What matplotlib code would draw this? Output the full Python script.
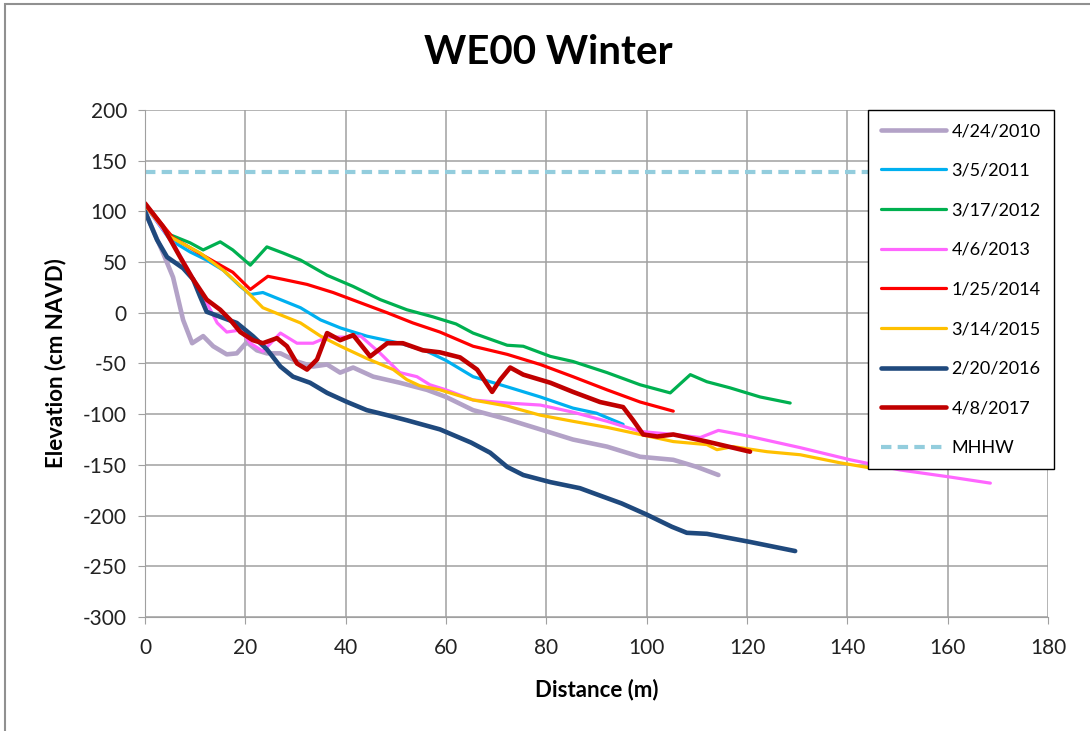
import matplotlib.pyplot as plt
from matplotlib.patches import Rectangle

plt.rcParams['font.family'] = ['Lato', 'DejaVu Sans']
plt.rcParams['axes.unicode_minus'] = False

# Beach profile surveys, distance (m) vs elevation (cm NAVD)
d2010 = [0, 3.6, 5.6, 7.6, 9.4, 11.6, 13.6, 16.3, 18.3, 20.3, 22.3, 24.3, 27, 30.3, 33.5, 36.3,
         38.9, 41.5, 45.5, 50.8, 56.2, 60, 65.4, 72.2, 78.8, 85.3, 92.1, 98.7, 105.3, 110, 114.3]
e2010 = [100, 59, 35, -7, -30, -23, -33, -41, -40, -29, -37, -40, -40, -48, -53, -51,
         -59, -54, -63, -69, -76, -83, -96, -105, -115, -125, -132, -142, -145, -152, -160]

d2011 = [0, 5, 9, 12.3, 15.6, 19, 21, 23.5, 27, 31, 35, 39, 44.2, 50.8, 56.2, 60,
         65.4, 72.2, 78.8, 85.3, 90, 95.3]
e2011 = [106, 72, 60, 52, 42, 26, 18, 20, 13, 5, -7, -15, -23, -30, -38, -47,
         -63, -73, -83, -94, -99, -110]

d2012 = [0, 5, 9, 11.6, 15, 17.5, 21, 24.3, 27.5, 31, 36.3, 41.5, 46.9, 52.2, 57.4, 62,
         65.4, 72.2, 75.4, 80.8, 85.3, 92.1, 98.7, 104.7, 108.7, 112, 116.6, 122.6, 128.6]
e2012 = [105, 77, 69, 62, 70, 62, 47, 65, 59, 52, 37, 26, 13, 3, -4, -11,
         -20, -32, -33, -43, -48, -59, -71, -79, -61, -68, -74, -83, -89]

d2013 = [0, 5.6, 9, 12.3, 14.4, 16.3, 19, 21, 23.5, 27, 30.3, 33.5, 36.3, 40.3, 43, 46.9,
         50.8, 54.2, 56.8, 60, 65.4, 72.2, 78.8, 85.3, 92.1, 98.7, 105.3, 110.7, 114.3,
         118.6, 120.6, 130.6, 140.6, 150.5, 160.5, 168.5]
e2013 = [106, 69, 39, 10, -10, -19, -17, -30, -38, -20, -30, -30, -24, -24, -23, -40,
         -59, -63, -71, -76, -86, -89, -91, -98, -107, -117, -120, -123, -116,
         -120, -122, -133, -145, -155, -162, -168]

d2014 = [0, 5.6, 10.4, 15, 17.5, 21, 24.5, 27.5, 32.3, 37.5, 42.9, 48.3, 53.4, 58.8,
         65.4, 72.2, 78.8, 85.3, 92.1, 98.7, 105.3]
e2014 = [108, 74, 60, 47, 40, 23, 36, 33, 28, 20, 10, 0, -10, -19,
         -33, -41, -51, -63, -76, -88, -97]

d2015 = [0, 5, 11, 15.6, 20.3, 23.5, 27, 31, 35, 39, 44.2, 49.5, 52.2, 54.8, 58.8,
         65.4, 72.2, 78.8, 85.3, 92.1, 98.7, 105.3, 112, 114, 117.2, 124, 130.6, 138.6, 144.6]
e2015 = [106, 75, 59, 42, 21, 5, -2, -10, -23, -33, -45, -56, -66, -72, -76,
         -86, -92, -101, -107, -113, -120, -127, -130, -135, -132, -137, -140, -148, -153]

d2016 = [0, 2.4, 4.4, 7.6, 9.6, 11, 12.3, 15, 18.3, 21.5, 24.3, 27, 29.5, 32.9, 36.3,
         40.3, 44.2, 48.3, 52.2, 58.8, 65, 68.8, 72.2, 75.4, 80.8, 86.7, 90, 95, 100,
         105, 108, 112, 120.6, 129.6]
e2016 = [100, 72, 55, 44, 33, 16, 1, -4, -10, -23, -36, -53, -63, -69, -79,
         -88, -96, -101, -106, -115, -128, -138, -152, -160, -167, -173, -179, -188, -199,
         -211, -217, -218, -226, -235]

d2017 = [0, 3.6, 7, 9.6, 12.3, 15, 17, 19, 21.5, 23.5, 26.3, 28.3, 30.3, 32.3, 34.3, 36.3,
         38.9, 41.5, 44.9, 48.3, 51.4, 55.4, 58.8, 62.8, 66.2, 69.2, 70.8, 72.8, 75.4,
         80.8, 85.3, 90.7, 95.3, 97.3, 99.3, 102.1, 105.3, 112, 120.6]
e2017 = [108, 85, 55, 33, 13, 3, -7, -19, -27, -30, -25, -33, -50, -56, -46, -20,
         -27, -22, -43, -30, -30, -37, -39, -44, -56, -78, -66, -54, -61,
         -69, -78, -88, -93, -106, -120, -122, -120, -127, -137]

mhhw = 139
x_range = [0, 180]

series = [
    ("4/24/2010", d2010, e2010, "#B3A2C7", 3.3),
    ("3/5/2011", d2011, e2011, "#00B0F0", 2.3),
    ("3/17/2012", d2012, e2012, "#00B050", 2.3),
    ("4/6/2013", d2013, e2013, "#FF66FF", 2.3),
    ("1/25/2014", d2014, e2014, "#FF0000", 2.3),
    ("3/14/2015", d2015, e2015, "#FFC000", 2.3),
    ("2/20/2016", d2016, e2016, "#1F497D", 3.3),
    ("4/8/2017", d2017, e2017, "#C00000", 3.3),
]

fig = plt.figure(figsize=(10.9, 7.31), dpi=100)
ax = fig.add_axes([0.133, 0.156, 0.8285, 0.6935])

for label, d, e, color, lw in series:
    ax.plot(d, e, color=color, lw=lw, label=label, solid_capstyle='round')
ax.plot(x_range, [mhhw, mhhw], color="#93CDDD", lw=3, ls=(0, (2.5, 1.5)), label="MHHW")

ax.set_xlim(0, 180)
ax.set_ylim(-300, 200)
ax.set_xticks(range(0, 181, 20))
ax.set_yticks(range(-300, 201, 50))
ax.grid(True, color="#A0A0A0", lw=1.1)
ax.set_axisbelow(True)
for side in ["top", "right"]:
    ax.spines[side].set_visible(False)
for side in ["left", "bottom"]:
    ax.spines[side].set_color("#A0A0A0")
ax.tick_params(axis='both', labelsize=15, color="#A0A0A0", length=5, labelcolor="#222222")
ax.tick_params(axis='x', pad=10)
ax.tick_params(axis='y', pad=8)

fig.text(0.503, 1 - 52 / 731, "WE00 Winter", fontsize=29, fontweight="bold",
         ha="center", va="center")
ax.set_xlabel("Distance (m)", fontsize=16, fontweight="bold", va="center")
ax.set_ylabel("Elevation (cm NAVD)", fontsize=16, fontweight="bold", va="center")
ax.xaxis.set_label_coords(0.5, -0.144)
ax.yaxis.set_label_coords(-0.099, 0.5)

leg = ax.legend(loc="upper left", bbox_to_anchor=(0.8007, 1.0), fontsize=13,
                frameon=True, fancybox=False, framealpha=1, edgecolor="black",
                handlelength=3.6, labelspacing=1.31, borderpad=0.72,
                handletextpad=0.3, borderaxespad=0)
leg.get_frame().set_linewidth(1.0)

# light chart-area border
fig.patches.append(Rectangle((0.005, -0.01), 1.0, 1.004, transform=fig.transFigure,
                             fill=False, edgecolor="#909090", lw=1.5))

fig.savefig("out.png", dpi=100)
